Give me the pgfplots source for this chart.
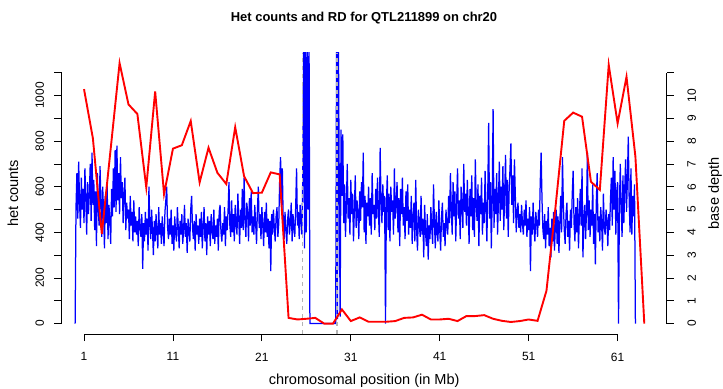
\documentclass[border=0pt]{standalone}
\usepackage{pgfplots}
\pgfplotsset{compat=1.18}
\usepackage{fontspec}
\setmainfont{Liberation Sans}

% per-Mb window het counts on chr20
\pgfplotstableread{
pos het
1 1028
2 812
3 393
4 767
5 1142
6 961
7 919
8 597
9 1018
10 568
11 767
12 782
13 888
14 619
15 771
16 661
17 612
18 861
19 646
20 572
21 574
22 663
23 654
24 25
25 18
26 21
27 25
28 0
29 0
30 62
31 11
32 27
33 8
34 8
35 8
36 11
37 25
38 27
39 39
40 18
41 18
42 21
43 11
44 33
45 33
46 37
47 21
48 12
49 7
50 11
51 18
52 12
53 144
54 505
55 889
56 925
57 907
58 622
59 586
60 1134
61 878
62 1082
63 732
64 0
}\hettable

\pgfplotsset{
  rstyle/.style={
    at={(61.6bp,55bp)}, anchor=south west,
    scale only axis, width=605.1bp, height=281.3bp,
    xmin=-1.52, xmax=66.52,
    axis line style={draw=none},
    tick align=outside,
    major tick length=7.2bp,
    tick style={black, line width=0.8bp},
    clip mode=individual,
    /pgf/number format/assume math mode=true,
    tick label style={font=\fontsize{12}{14}\selectfont},
    label style={font=\fontsize{14.6}{16}\selectfont},
  },
}

\begin{document}
\begin{tikzpicture}
\useasboundingbox (0,0) rectangle (723bp,389bp);

% read depth, 100 kb steps from 0 Mb (right axis)
\begin{axis}[rstyle,
  ymin=-0.457, ymax=11.877,
  xtick=\empty,
  ytick={0,1,2,3,4,5,6,7,8,9,10,11},
  yticklabels={0,1,2,3,4,5,6,7,8,9,10,{}},
  ytick pos=right,
  yticklabel style={rotate=90, anchor=north},
  yticklabel shift=10bp,
  ylabel={base depth},
  ylabel style={at={(axis description cs:1.0798,0.5)}, anchor=center},
]
\addplot[blue, line width=1.25bp] table[header=false, row sep=\\, x expr=\coordindex/10, y index=0] {
0\\ 5.1\\ 6.6\\ 4.6\\ 7.1\\ 5.3\\ 4.2\\ 6.4\\ 5.0\\ 5.9\\
4.4\\ 6.8\\ 5.5\\ 3.9\\ 6.2\\ 4.8\\ 5.7\\ 7.0\\ 4.5\\ 7.5\\
5.2\\ 6.3\\ 4.1\\ 5.8\\ 3.4\\ 6.6\\ 5.0\\ 4.3\\ 6.9\\ 5.4\\
3.8\\ 6.0\\ 4.9\\ 3.3\\ 5.6\\ 4.4\\ 6.1\\ 3.7\\ 5.2\\ 4.6\\
3.5\\ 5.9\\ 4.7\\ 6.8\\ 5.1\\ 7.6\\ 4.9\\ 7.8\\ 5.4\\ 6.6\\
4.8\\ 7.3\\ 5.5\\ 6.2\\ 4.4\\ 5.7\\ 6.4\\ 4.1\\ 5.3\\ 4.6\\
5.0\\ 3.7\\ 5.6\\ 4.3\\ 4.9\\ 3.6\\ 5.4\\ 4.0\\ 4.7\\ 3.9\\
4.5\\ 3.4\\ 5.1\\ 4.2\\ 3.8\\ 4.8\\ 2.4\\ 4.4\\ 3.6\\ 4.9\\
3.9\\ 4.6\\ 3.2\\ 6.0\\ 4.3\\ 3.7\\ 5.0\\ 4.1\\ 3.0\\ 4.5\\
3.6\\ 4.8\\ 4.0\\ 3.3\\ 5.1\\ 3.9\\ 4.4\\ 3.5\\ 4.7\\ 4.0\\
3.4\\ 4.9\\ 5.4\\ 6.0\\ 4.2\\ 3.7\\ 4.6\\ 3.9\\ 5.0\\ 3.5\\
4.3\\ 3.2\\ 4.7\\ 4.0\\ 3.6\\ 5.1\\ 4.2\\ 3.3\\ 4.5\\ 3.9\\
4.8\\ 3.5\\ 4.1\\ 5.2\\ 3.8\\ 4.4\\ 3.1\\ 4.6\\ 4.0\\ 3.6\\
5.0\\ 5.6\\ 4.2\\ 3.7\\ 4.5\\ 3.2\\ 4.8\\ 3.9\\ 4.3\\ 3.5\\
4.6\\ 3.8\\ 4.9\\ 3.3\\ 4.2\\ 5.1\\ 3.6\\ 4.4\\ 3.0\\ 4.7\\
3.9\\ 4.5\\ 3.4\\ 4.8\\ 4.1\\ 3.7\\ 5.0\\ 3.5\\ 4.3\\ 3.8\\
4.6\\ 3.2\\ 4.9\\ 5.2\\ 4.0\\ 3.6\\ 4.4\\ 3.9\\ 5.1\\ 3.4\\
4.7\\ 4.1\\ 5.0\\ 6.2\\ 4.3\\ 3.8\\ 5.4\\ 4.0\\ 4.8\\ 3.6\\
5.2\\ 4.4\\ 3.9\\ 5.7\\ 4.6\\ 3.5\\ 5.0\\ 4.2\\ 5.9\\ 4.1\\
6.4\\ 4.5\\ 3.8\\ 5.3\\ 4.9\\ 3.6\\ 5.5\\ 4.3\\ 5.8\\ 4.0\\
4.7\\ 3.9\\ 5.2\\ 4.4\\ 3.5\\ 5.0\\ 6.0\\ 4.2\\ 4.8\\ 3.7\\
5.1\\ 4.3\\ 3.4\\ 4.9\\ 4.0\\ 5.3\\ 3.8\\ 4.6\\ 3.3\\ 4.5\\
2.3\\ 4.8\\ 3.9\\ 5.0\\ 4.2\\ 3.6\\ 4.7\\ 5.1\\ 3.8\\ 4.4\\
6.3\\ 7.3\\ 5.2\\ 6.8\\ 4.5\\ 3.7\\ 4.9\\ 4.1\\ 3.5\\ 4.6\\
5.0\\ 3.9\\ 4.4\\ 5.3\\ 3.6\\ 4.8\\ 4.2\\ 3.8\\ 5.1\\ 6.8\\
4.3\\ 4.9\\ 3.7\\ 5.2\\ 4.5\\ 3.9\\ 6.5\\ 12.5\\ 3.3\\ 13.0\\
4.0\\ 12.8\\ 5.0\\ 13.0\\ 0\\ 0\\ 0\\ 0\\ 0\\ 0\\
0\\ 0\\ 0\\ 0\\ 0\\ 0\\ 0\\ 0\\ 0\\ 0\\
0\\ 0\\ 0\\ 0\\ 0\\ 0\\ 0\\ 0\\ 0\\ 0\\
0\\ 0\\ 0\\ 0\\ 12.5\\ 0.2\\ 13.0\\ 6.0\\ 0.3\\ 8.5\\
5.6\\ 8.3\\ 4.4\\ 6.1\\ 3.8\\ 5.2\\ 7.0\\ 4.6\\ 5.5\\ 3.9\\
6.3\\ 4.8\\ 5.7\\ 3.6\\ 5.0\\ 6.5\\ 4.2\\ 5.4\\ 4.9\\ 3.7\\
5.8\\ 4.5\\ 6.2\\ 5.1\\ 7.5\\ 4.0\\ 5.6\\ 3.5\\ 5.3\\ 4.7\\
6.0\\ 4.3\\ 5.5\\ 3.9\\ 6.6\\ 4.8\\ 5.2\\ 4.1\\ 5.9\\ 4.6\\
6.4\\ 5.0\\ 3.8\\ 7.7\\ 5.3\\ 4.4\\ 6.1\\ 4.9\\ 5.6\\ 0\\
5.2\\ 6.5\\ 4.1\\ 5.7\\ 3.6\\ 6.0\\ 4.9\\ 5.4\\ 3.9\\ 6.8\\
4.6\\ 5.3\\ 6.2\\ 4.0\\ 5.5\\ 3.4\\ 5.9\\ 4.8\\ 6.4\\ 4.3\\
5.1\\ 3.7\\ 5.8\\ 4.5\\ 6.1\\ 3.9\\ 5.0\\ 4.2\\ 5.6\\ 3.5\\
4.7\\ 5.3\\ 3.6\\ 6.3\\ 4.1\\ 3.2\\ 5.0\\ 4.4\\ 3.8\\ 5.6\\
3.9\\ 4.6\\ 2.9\\ 5.2\\ 4.0\\ 3.4\\ 4.8\\ 2.8\\ 4.3\\ 3.7\\
5.1\\ 4.2\\ 3.5\\ 6.1\\ 4.5\\ 3.3\\ 4.9\\ 4.0\\ 3.6\\ 5.4\\
4.1\\ 3.2\\ 4.7\\ 5.3\\ 3.8\\ 4.4\\ 3.4\\ 5.0\\ 4.3\\ 3.9\\
5.6\\ 4.4\\ 6.6\\ 5.0\\ 3.9\\ 6.2\\ 4.7\\ 5.8\\ 3.6\\ 5.3\\
6.8\\ 4.6\\ 5.4\\ 3.7\\ 6.0\\ 5.1\\ 4.2\\ 7.0\\ 4.9\\ 5.7\\
4.3\\ 6.3\\ 5.0\\ 3.5\\ 5.9\\ 4.7\\ 6.5\\ 4.1\\ 5.5\\ 3.8\\
7.2\\ 5.2\\ 4.5\\ 6.1\\ 3.4\\ 5.6\\ 4.8\\ 6.4\\ 3.9\\ 5.3\\
4.4\\ 6.7\\ 5.1\\ 3.6\\ 5.8\\ 8.8\\ 4.6\\ 6.2\\ 3.3\\ 5.5\\
9.4\\ 4.2\\ 5.9\\ 4.8\\ 6.6\\ 3.9\\ 5.4\\ 7.1\\ 4.5\\ 6.0\\
5.0\\ 6.9\\ 4.1\\ 5.7\\ 7.4\\ 4.6\\ 6.3\\ 3.8\\ 5.8\\ 6.8\\
7.9\\ 5.2\\ 6.5\\ 4.4\\ 7.2\\ 5.6\\ 4.0\\ 4.9\\ 5.3\\ 4.2\\
4.8\\ 4.0\\ 5.2\\ 4.4\\ 3.9\\ 5.0\\ 4.3\\ 5.4\\ 3.8\\ 4.6\\
4.1\\ 5.1\\ 2.3\\ 4.7\\ 3.9\\ 5.3\\ 4.2\\ 3.6\\ 4.9\\ 4.4\\
3.8\\ 5.0\\ 4.3\\ 6.2\\ 7.5\\ 5.4\\ 4.1\\ 3.7\\ 4.8\\ 3.3\\
4.5\\ 3.9\\ 5.1\\ 3.4\\ 4.2\\ 2.9\\ 4.6\\ 3.6\\ 4.9\\ 3.2\\
4.3\\ 5.0\\ 3.5\\ 4.7\\ 3.1\\ 4.4\\ 5.6\\ 4.0\\ 7.3\\ 5.2\\
4.1\\ 3.5\\ 4.8\\ 5.3\\ 3.8\\ 4.5\\ 3.2\\ 5.0\\ 4.2\\ 5.7\\
6.7\\ 4.4\\ 3.6\\ 5.1\\ 4.0\\ 5.5\\ 3.3\\ 4.7\\ 5.9\\ 4.3\\
6.8\\ 2.9\\ 4.6\\ 5.2\\ 3.7\\ 4.9\\ 7.5\\ 4.1\\ 5.4\\ 3.8\\
5.0\\ 4.3\\ 6.1\\ 3.5\\ 4.8\\ 2.6\\ 5.3\\ 6.6\\ 4.0\\ 4.7\\
3.6\\ 5.1\\ 4.4\\ 3.2\\ 5.7\\ 4.2\\ 3.9\\ 5.0\\ 4.5\\ 3.4\\
4.8\\ 4.1\\ 5.5\\ 6.4\\ 4.3\\ 7.3\\ 5.0\\ 6.7\\ 3.9\\ 5.8\\
6.2\\ 0\\ 5.0\\ 7.0\\ 5.1\\ 3.8\\ 6.5\\ 4.4\\ 5.9\\ 7.2\\
4.9\\ 6.3\\ 8.2\\ 5.4\\ 4.0\\ 6.8\\ 3.9\\ 5.6\\ 4.7\\ 6.1\\
0\\
};
% right axis line from 0 to 11
\draw[black, line width=0.8bp] (axis cs:66.52,0) -- (axis cs:66.52,11);
\end{axis}

% het counts (left axis), boundaries and chromosome positions
\begin{axis}[rstyle,
  ymin=-45.7, ymax=1187.7,
  xtick={1,11,21,31,41,51,61},
  xticklabels={1,11,21,31,41,51,61},
  xtick pos=bottom,
  xticklabel shift=8bp,
  ytick={0,100,200,300,400,500,600,700,800,900,1000,1100},
  yticklabels={0,{},200,{},400,{},600,{},800,{},1000,{}},
  ytick pos=left,
  yticklabel style={rotate=90, anchor=south},
  yticklabel shift=7bp,
  xlabel={chromosomal position (in Mb)},
  xlabel style={at={(axis description cs:0.5,-0.1671)}, anchor=center},
  ylabel={het counts},
  ylabel style={at={(axis description cs:-0.0803,0.5)}, anchor=center},
]
\addplot[color={rgb,255:red,180;green,180;blue,180}, line width=1.6bp, dash pattern=on 4bp off 4bp] coordinates {(25.56,-45.7) (25.56,1187.7)};
\addplot[color={rgb,255:red,180;green,180;blue,180}, line width=1.6bp, dash pattern=on 4bp off 4bp] coordinates {(29.42,-45.7) (29.42,1187.7)};
\addplot[red, line width=1.9bp] table[x=pos, y=het] {\hettable};
\draw[black, line width=0.8bp] (axis cs:-1.52,0) -- (axis cs:-1.52,1100);
\draw[black, line width=0.8bp] (axis cs:1,-45.7) -- (axis cs:61,-45.7);
\end{axis}

\node[font=\bfseries\fontsize{13}{16}\selectfont, anchor=base] at (364bp,367bp) {Het counts and RD for QTL211899 on chr20};
\end{tikzpicture}
\end{document}
